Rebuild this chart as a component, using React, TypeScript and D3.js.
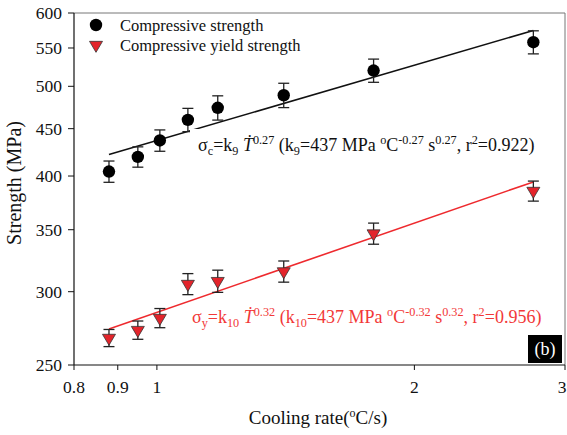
import React from "react";
import * as d3 from "d3";

// ---- data ----
const coolingRate = [0.879, 0.95, 1.008, 1.087, 1.178, 1.407, 1.792, 2.755];
const compressiveStrength = [404.5, 419.5, 437, 460, 474, 489, 520, 558];
const compressiveErr = [10.7, 10.6, 11.6, 13.3, 14.3, 14.8, 15, 16];
const yieldStrength = [267.4, 272.7, 281, 305.8, 308, 315.5, 346.7, 385.4];
const yieldErr = [5.7, 6.2, 6.7, 8, 8.5, 8.3, 9.1, 9.6];

// power-law fits (k * rate^n) as drawn
const fitCompressiveK = 437;
const fitCompressiveN = 0.27;
const fitYieldK = 285;
const fitYieldN = 0.32;

const yTicks = [250, 300, 350, 400, 450, 500, 550, 600];
const xTicks = [0.8, 0.9, 1, 2, 3];
const xTickLabels = ["0.8", "0.9", "1", "2", "3"];

const legendLabels = ["Compressive strength", "Compressive yield strength"];

type Seg = { t: string; k?: "sub" | "sup"; it?: boolean };

const eqCompressive: Seg[] = [
  { t: "σ" }, { t: "c", k: "sub" }, { t: "=k" }, { t: "9", k: "sub" }, { t: " " },
  { t: "Ṫ", it: true }, { t: "0.27", k: "sup" }, { t: " (k" }, { t: "9", k: "sub" },
  { t: "=437 MPa " }, { t: "o", k: "sup" }, { t: "C" }, { t: "-0.27", k: "sup" },
  { t: " s" }, { t: "0.27", k: "sup" }, { t: ", r" }, { t: "2", k: "sup" }, { t: "=0.922)" },
];
const eqYield: Seg[] = [
  { t: "σ" }, { t: "y", k: "sub" }, { t: "=k" }, { t: "10", k: "sub" }, { t: " " },
  { t: "Ṫ", it: true }, { t: "0.32", k: "sup" }, { t: " (k" }, { t: "10", k: "sub" },
  { t: "=437 MPa " }, { t: "o", k: "sup" }, { t: "C" }, { t: "-0.32", k: "sup" },
  { t: " s" }, { t: "0.32", k: "sup" }, { t: ", r" }, { t: "2", k: "sup" }, { t: "=0.956)" },
];

const FONT = "Liberation Serif, Tinos, Times New Roman, DejaVu Serif, Noto Serif, serif";
const RED = "#ee2a2e";

function EqText({ x, y, fill, segs, size }: { x: number; y: number; fill: string; segs: Seg[]; size: number }) {
  let off = 0;
  const kids = segs.map((s, i) => {
    const target = s.k === "sub" ? 4 : s.k === "sup" ? -7 : 0;
    const dy = target - off;
    off = target;
    return (
      <tspan key={i} dy={dy} style={{ fontSize: s.k ? size * 0.68 : size, fontStyle: s.it ? "italic" : "normal" }}>
        {s.t}
      </tspan>
    );
  });
  return (
    <text x={x} y={y} fill={fill} style={{ whiteSpace: "pre", fontFamily: FONT }}>
      {kids}
    </text>
  );
}

export default function App() {
  const W = 567, H = 435;
  const x = d3.scaleLog().domain([0.8, 3]).range([74, 565]);
  const y = d3.scaleLog().domain([250, 600]).range([365, 13]);

  const line = d3.line<[number, number]>().x((d) => x(d[0])).y((d) => y(d[1]));
  const xMin = d3.min(coolingRate)!;
  const xMax = d3.max(coolingRate)!;
  const fitC: [number, number][] = [xMin, xMax].map((r) => [r, fitCompressiveK * Math.pow(r, fitCompressiveN)]);
  const fitY: [number, number][] = [xMin, xMax].map((r) => [r, fitYieldK * Math.pow(r, fitYieldN)]);

  const triPath = (cx: number, cy: number) => {
    const w = 13, h = 11;
    return `M${cx - w / 2},${cy - h / 3}L${cx + w / 2},${cy - h / 3}L${cx},${cy + (2 * h) / 3}Z`;
  };

  const errBar = (cx: number, v: number, e: number, key: string) => (
    <g key={key} stroke="#222" strokeWidth={1.3}>
      <line x1={cx} x2={cx} y1={y(v - e)} y2={y(v + e)} />
      <line x1={cx - 5.5} x2={cx + 5.5} y1={y(v - e)} y2={y(v - e)} />
      <line x1={cx - 5.5} x2={cx + 5.5} y1={y(v + e)} y2={y(v + e)} />
    </g>
  );

  const [x0, x1] = x.range();
  const [yb, yt] = y.range();
  const tf = { fontFamily: FONT };

  return (
    <svg width={W} height={H} style={{ position: "absolute", left: 0, top: 0, background: "#fff", fontFamily: FONT }}>
      <rect x={0} y={0} width={W} height={H} fill="#fff" />
      {/* frame */}
      <line x1={x0} x2={x1} y1={yt} y2={yt} stroke="#777" strokeWidth={1} />
      <line x1={x1} x2={x1} y1={yt} y2={yb} stroke="#777" strokeWidth={1} />
      <line x1={x0} x2={x1} y1={yb} y2={yb} stroke="#111" strokeWidth={1.2} />
      <line x1={x0} x2={x0} y1={yt} y2={yb} stroke="#111" strokeWidth={1.2} />

      {/* y ticks */}
      {yTicks.map((t) => (
        <g key={"y" + t}>
          <line x1={x0 - 6} x2={x0} y1={y(t)} y2={y(t)} stroke="#111" strokeWidth={1} />
          <text x={62} y={y(t) + 6} textAnchor="end" style={{ ...tf, fontSize: 17.5 }} fill="#111">
            {t}
          </text>
        </g>
      ))}
      {/* x ticks */}
      {xTicks.map((t, i) => (
        <g key={"x" + t}>
          <line x1={x(t)} x2={x(t)} y1={yb} y2={yb + 5} stroke="#111" strokeWidth={1} />
          <text x={Math.min(x(t), 562)} y={393} textAnchor="middle" style={{ ...tf, fontSize: 17.5 }} fill="#111">
            {xTickLabels[i]}
          </text>
        </g>
      ))}

      {/* axis titles */}
      <text x={318} y={424} textAnchor="middle" style={{ ...tf, fontSize: 19, whiteSpace: "pre" }} fill="#111">
        Cooling rate(<tspan dy={-7} style={{ fontSize: 12 }}>o</tspan>
        <tspan dy={7}>C/s)</tspan>
      </text>
      <text transform={`translate(21,183) rotate(-90)`} textAnchor="middle" style={{ ...tf, fontSize: 20 }} fill="#111">
        Strength (MPa)
      </text>

      {/* fit lines */}
      <path d={line(fitC)!} stroke="#111" strokeWidth={1.6} fill="none" />
      <path d={line(fitY)!} stroke={RED} strokeWidth={1.6} fill="none" />

      {/* compressive strength */}
      {coolingRate.map((r, i) => errBar(x(r), compressiveStrength[i], compressiveErr[i], "ec" + i))}
      {coolingRate.map((r, i) => (
        <circle key={"c" + i} cx={x(r)} cy={y(compressiveStrength[i])} r={6.2} fill="#000" />
      ))}

      {/* yield strength */}
      {coolingRate.map((r, i) => errBar(x(r), yieldStrength[i], yieldErr[i], "ey" + i))}
      {coolingRate.map((r, i) => (
        <path key={"t" + i} d={triPath(x(r), y(yieldStrength[i]))} fill="#e3242b" stroke="#333" strokeWidth={0.8} />
      ))}

      {/* equations */}
      <rect x={190} y={129} width={358} height={28} fill="#fff" />
      <EqText x={198} y={151} fill="#111" segs={eqCompressive} size={18} />
      <EqText x={192} y={323} fill="#f23838" segs={eqYield} size={18} />

      {/* legend */}
      <circle cx={96} cy={25} r={6.2} fill="#000" />
      <text x={120} y={31} style={{ ...tf, fontSize: 16.5 }} fill="#111">{legendLabels[0]}</text>
      <path d={triPath(96, 45)} fill="#e3242b" stroke="#333" strokeWidth={0.8} />
      <text x={120} y={51} style={{ ...tf, fontSize: 16.5 }} fill="#111">{legendLabels[1]}</text>

      {/* panel label */}
      <rect x={528} y={335} width={34} height={28} fill="#000" />
      <text x={545} y={355} textAnchor="middle" style={{ ...tf, fontSize: 18 }} fill="#fff">(b)</text>
    </svg>
  );
}
